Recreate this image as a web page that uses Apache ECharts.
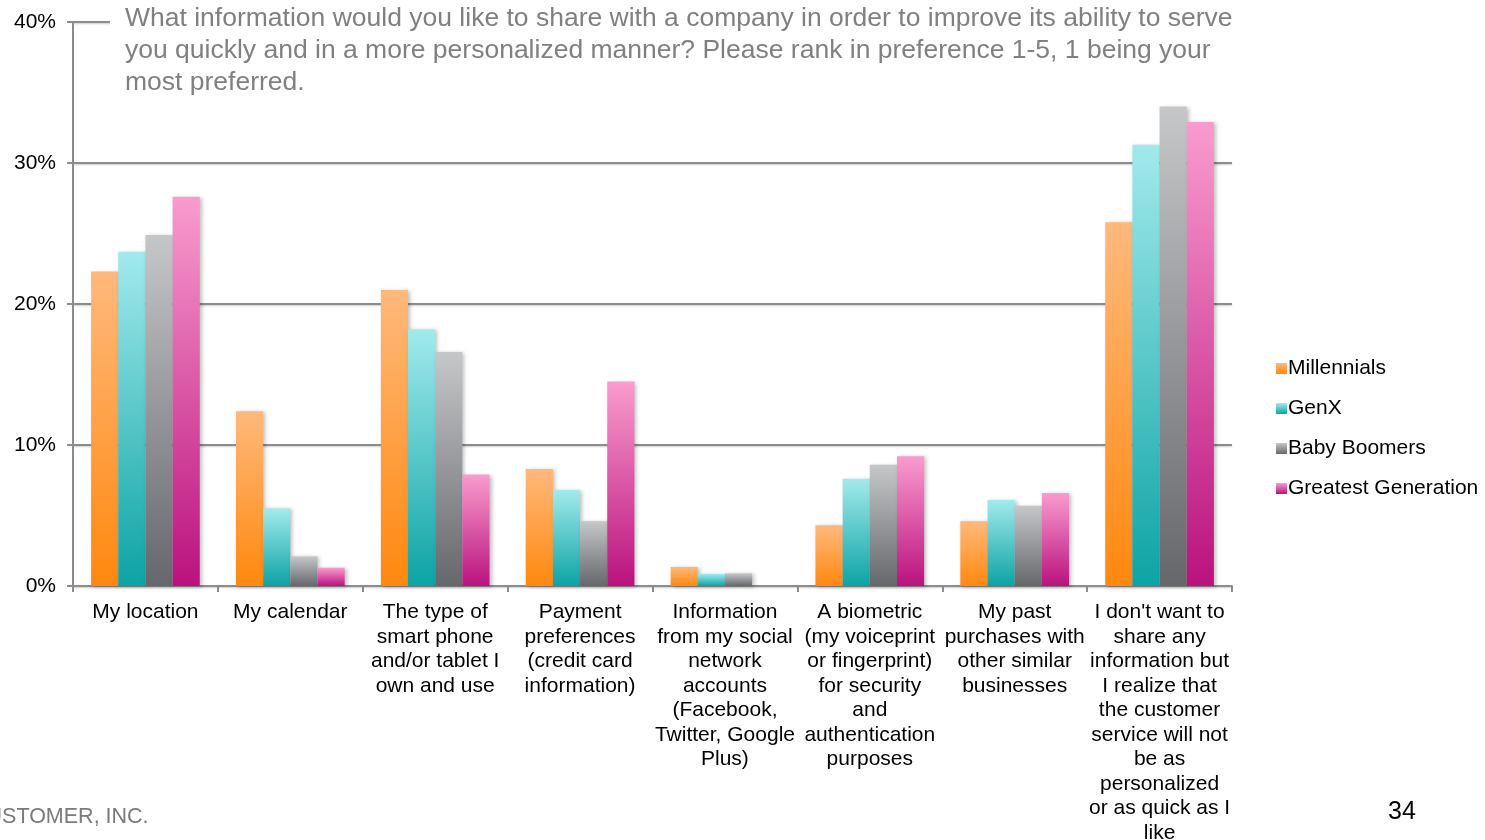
<!DOCTYPE html>
<html>
<head>
<meta charset="utf-8">
<script src="https://cdn.jsdelivr.net/npm/echarts@6/dist/echarts.min.js"></script>
<style>
  html, body { margin: 0; padding: 0; background: #fff; }
  #chart { width: 1485px; height: 840px; }
</style>
</head>
<body>
<div id="chart"></div>
<script>
var categories = [
  'My location',
  'My calendar',
  'The type of\nsmart phone\nand/or tablet I\nown and use',
  'Payment\npreferences\n(credit card\ninformation)',
  'Information\nfrom my social\nnetwork\naccounts\n(Facebook,\nTwitter, Google\nPlus)',
  'A biometric\n(my voiceprint\nor fingerprint)\nfor security\nand\nauthentication\npurposes',
  'My past\npurchases with\nother similar\nbusinesses',
  "I don't want to\nshare any\ninformation but\nI realize that\nthe customer\nservice will not\nbe as\npersonalized\nor as quick as I\nlike"
];

// percent values
var millennials = [22.3, 12.4, 21.0, 8.3, 1.35, 4.3, 4.6, 25.8];
var genX = [23.7, 5.5, 18.2, 6.8, 0.85, 7.6, 6.1, 31.3];
var babyBoomers = [24.9, 2.1, 16.6, 4.6, 0.9, 8.6, 5.7, 34.0];
var greatestGen = [27.6, 1.3, 7.9, 14.5, 0, 9.2, 6.6, 32.9];

var yTicks = [0, 10, 20, 30, 40];

var titleText = 'What information would you like to share with a company in order to improve its ability to serve\n' +
  'you quickly and in a more personalized manner? Please rank in preference 1-5, 1 being your\n' +
  'most preferred.';

var FONT = 'Liberation Sans, Arial, sans-serif';

function grad(top, bottom) {
  return new echarts.graphic.LinearGradient(0, 0, 0, 1, [
    { offset: 0, color: top },
    { offset: 1, color: bottom }
  ]);
}

function makeSeries(name, values, top, bottom) {
  return {
    name: name,
    type: 'bar',
    data: values,
    barGap: '0%',
    barCategoryGap: '25%',
    itemStyle: {
      color: grad(top, bottom),
      shadowBlur: 4,
      shadowOffsetX: 2,
      shadowOffsetY: 1,
      shadowColor: 'rgba(0,0,0,0.25)'
    }
  };
}

var myChart = echarts.init(document.getElementById('chart'));

var option = {
  backgroundColor: '#fff',
  animation: false,
  textStyle: { fontFamily: FONT },
  title: {
    text: titleText,
    left: 110,
    top: 0,
    padding: [3, 15, 4, 15],
    backgroundColor: '#fff',
    textStyle: {
      color: '#808080',
      fontSize: 26.5,
      fontWeight: 'normal',
      lineHeight: 32,
      fontFamily: FONT
    }
  },
  legend: {
    orient: 'vertical',
    left: 1271,
    top: 353,
    itemWidth: 11,
    itemHeight: 11,
    itemGap: 19,
    icon: 'rect',
    textStyle: { fontSize: 21, color: '#000', padding: [0, 0, 0, -4] },
    data: ['Millennials', 'GenX', 'Baby Boomers', 'Greatest Generation']
  },
  grid: {
    left: 73,
    right: 253,
    top: 22,
    bottom: 254,
    containLabel: false,
    outerBoundsMode: 'none'
  },
  xAxis: {
    type: 'category',
    data: categories,
    boundaryGap: true,
    axisLine: { lineStyle: { color: '#8c8c8c', width: 2 } },
    axisTick: { show: true, alignWithLabel: false, length: 6, lineStyle: { color: '#8c8c8c', width: 2 } },
    axisLabel: {
      interval: 0,
      margin: 14,
      color: '#000',
      fontSize: 21,
      lineHeight: 24.5
    }
  },
  yAxis: {
    type: 'value',
    min: yTicks[0],
    max: yTicks[yTicks.length - 1],
    interval: 10,
    axisLine: { show: true, lineStyle: { color: '#8c8c8c', width: 2 } },
    axisTick: { show: true, length: 6, lineStyle: { color: '#8c8c8c', width: 2 } },
    axisLabel: {
      formatter: '{value}%',
      color: '#000',
      fontSize: 21,
      margin: 17
    },
    splitLine: {
      lineStyle: {
        color: '#8c8c8c',
        width: 2,
        shadowBlur: 2,
        shadowOffsetY: 1,
        shadowColor: 'rgba(0,0,0,0.2)'
      }
    }
  },
  series: [
    makeSeries('Millennials', millennials, '#FFB97C', '#FF880E'),
    makeSeries('GenX', genX, '#A2EAEC', '#0DA3A4'),
    makeSeries('Baby Boomers', babyBoomers, '#C6C7C9', '#66676B'),
    makeSeries('Greatest Generation', greatestGen, '#F99CCE', '#BA127D')
  ],
  graphic: [
    {
      type: 'text',
      left: -29,
      top: 806,
      style: { text: 'CUSTOMER, INC.', fill: '#7a7a7a', fontSize: 21.5, fontFamily: FONT }
    },
    {
      type: 'text',
      left: 1388,
      top: 800,
      style: { text: '34', fill: '#000', fontSize: 25, fontFamily: FONT }
    }
  ]
};

myChart.setOption(option);
</script>
</body>
</html>
